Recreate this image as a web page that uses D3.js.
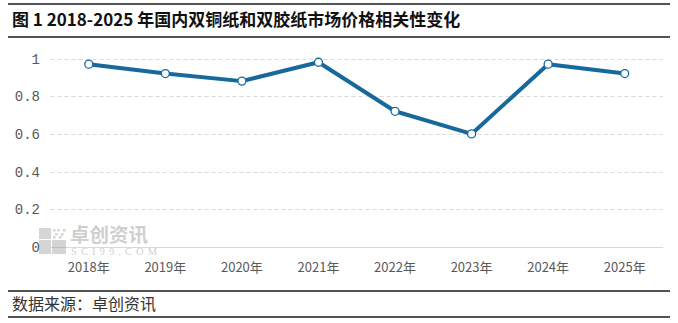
<!DOCTYPE html>
<html><head><meta charset="utf-8">
<script src="https://cdn.jsdelivr.net/npm/d3@7"></script>
<style>body{margin:0;background:#fff}svg{display:block}</style>
</head><body><svg id="c" width="678" height="323"></svg>
<script>
const years = ["2018年","2019年","2020年","2021年","2022年","2023年","2024年","2025年"];
const values = [0.97, 0.92, 0.88, 0.98, 0.72, 0.60, 0.97, 0.92];
const yTicks = [0, 0.2, 0.4, 0.6, 0.8, 1];
const title = "图 1 2018-2025 年国内双铜纸和双胶纸市场价格相关性变化";
const source = "数据来源：卓创资讯";

(function(){
const svg = d3.select("#c");
const pL = 50.5, pR = 663, pT = 58.5, pB = 247;
const x = d3.scaleBand().domain(years).range([pL, pR]);
const y = d3.scaleLinear().domain([0, 1]).range([pB, pT]);

// frame lines
const frame = [4, 37, 291, 317];
svg.selectAll("line.frame").data(frame).join("line").attr("class","frame")
  .attr("x1", 8).attr("x2", 670).attr("y1", d=>d).attr("y2", d=>d)
  .attr("stroke", "#1a1a1a").attr("stroke-width", 1.3);

svg.append("text").attr("x", 12).attr("y", 26)
  .attr("font-family", "'Noto Sans CJK SC'").attr("font-weight", "bold")
  .attr("font-size", 17).attr("fill", "#111").text(title);

svg.append("text").attr("x", 12).attr("y", 310)
  .attr("font-family", "'Noto Sans CJK SC'").attr("font-size", 16)
  .attr("fill", "#333").text(source);

// gridlines
svg.append("g").selectAll("line").data(yTicks.filter(d=>d>0)).join("line")
  .attr("x1", pL).attr("x2", pR)
  .attr("y1", d=>Math.round(y(d))+0.5).attr("y2", d=>Math.round(y(d))+0.5)
  .attr("stroke", "#d9d9d9").attr("stroke-dasharray", "4,3");

// axis line
svg.append("line").attr("x1", pL).attr("x2", pR)
  .attr("y1", Math.round(y(0))+0.5).attr("y2", Math.round(y(0))+0.5)
  .attr("stroke", "#d9d9d9").attr("stroke-width", 1);

// watermark
const wm = svg.append("g").attr("opacity", 0.35);
wm.append("rect").attr("x", 39).attr("y", 228).attr("width", 12).attr("height", 11).attr("fill", "#888");
wm.append("rect").attr("x", 39).attr("y", 240).attr("width", 12).attr("height", 14).attr("fill", "#888");
wm.append("rect").attr("x", 52).attr("y", 240).attr("width", 14).attr("height", 14).attr("fill", "#888");
[[53,229],[57,229],[61,233],[55,233],[59,236],[63,229],[53,236]].forEach(p=>{
  wm.append("rect").attr("x", p[0]).attr("y", p[1]).attr("width", 2.5).attr("height", 2.5).attr("fill", "#888");
});
wm.append("text").attr("x", 70).attr("y", 242).attr("font-family","'Noto Sans CJK SC'")
  .attr("font-size", 19.5).attr("font-weight","bold").attr("fill","#777").text("卓创资讯");
wm.append("text").attr("x", 71).attr("y", 255).attr("font-family","'Liberation Serif'")
  .attr("font-size", 10.5).attr("fill","#777").attr("textLength", 86).text("SCI99.COM");

// y labels
svg.append("g").selectAll("text").data(yTicks).join("text")
  .attr("x", 40).attr("y", d=>y(d)+5).attr("text-anchor","end")
  .attr("font-family", "'Liberation Mono'").attr("font-size", 14)
  .attr("fill", "#595959").text(d=>d===0?"0":d===1?"1":d.toFixed(1));

// x labels
svg.append("g").selectAll("text").data(years).join("text")
  .attr("x", d=>x(d)+x.bandwidth()/2).attr("y", 272).attr("text-anchor","middle")
  .attr("font-family", "'Noto Sans CJK SC'").attr("font-size", 13)
  .attr("fill", "#595959").text(d=>d);

// line
const color = "#17699c";
const line = d3.line().x((d,i)=>x(years[i])+x.bandwidth()/2).y(d=>y(d));
svg.append("path").datum(values).attr("d", line).attr("fill","none")
  .attr("stroke", color).attr("stroke-width", 4).attr("stroke-linejoin","round");
svg.append("g").selectAll("circle").data(values).join("circle")
  .attr("cx", (d,i)=>x(years[i])+x.bandwidth()/2).attr("cy", d=>y(d)).attr("r", 4)
  .attr("fill", "#fff").attr("stroke", color).attr("stroke-width", 1.3);
})();
</script></body></html>
